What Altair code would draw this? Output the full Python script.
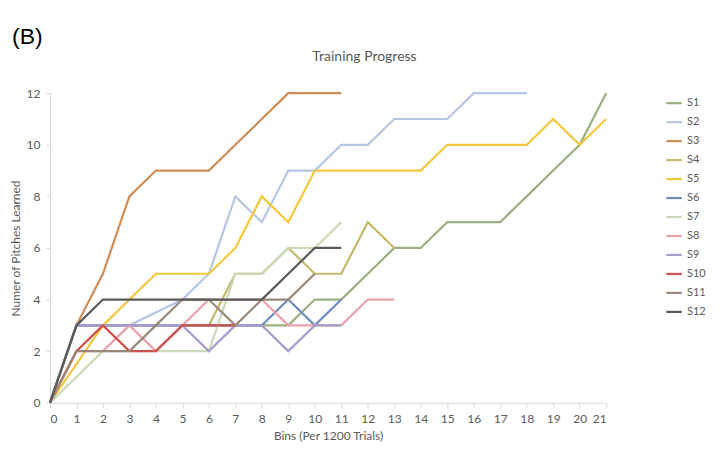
import altair as alt
import pandas as pd

bins = list(range(22))
series_names = ["S1", "S2", "S3", "S4", "S5", "S6", "S7", "S8", "S9", "S10", "S11", "S12"]

# values per bin (None = no point in that bin)
S1 = [0, 3, 3, 3, 3, 3, 3, 3, 3, 3, 4, 4, 5, 6, 6, 7, 7, 7, 8, 9, 10, 12]
S2 = [0, 3, 3, 3, None, 4, 5, 8, 7, 9, 9, 10, 10, 11, 11, 11, 12, 12, 12]
S3 = [0, 3, 5, 8, 9, 9, 9, 10, 11, 12, 12, 12]
S4 = [0, 3, 3, 3, 3, 3, 3, 5, 5, 6, 5, 5, 7, 6]
S5 = [0, None, 3, 4, 5, 5, 5, 6, 8, 7, 9, 9, 9, 9, 9, 10, 10, 10, 10, 11, 10, 11]
S6 = [0, 3, 3, 3, 3, 3, 3, 3, 3, 4, 3, 4]
S7 = [0, 1, 2, 2, 2, 2, 2, 5, 5, 6, 6, 7]
S8 = [0, 2, 2, 3, 2, 3, 4, 4, 4, 3, 3, 3, 4, 4]
S9 = [0, 3, 3, 3, 3, 3, 2, 3, 3, 2, 3, 3]
S10 = [0, 2, 3, 2, 2, 3, 3, 3]
S11 = [0, 2, 2, 2, 3, 4, 4, 3, 4, 4, 5]
S12 = [0, 3, 4, 4, 4, 4, 4, 4, 4, 5, 6, 6]

series_values = [S1, S2, S3, S4, S5, S6, S7, S8, S9, S10, S11, S12]
colors = ["#9AAF80", "#B4C6E4", "#D08C55", "#C4B86C", "#F2C83A", "#6F8CC4",
          "#C9D9B8", "#E9A2AA", "#A99CCB", "#D0504D", "#9C8878", "#595959"]

chart_title = "Training Progress"
panel_label = "(B)"

rows = []
for name, vals in zip(series_names, series_values):
    for b, v in zip(bins, vals):
        if v is not None:
            rows.append({"Series": name, "Bin": b, "Pitches": v})
df = pd.DataFrame(rows)

FONT = "Lato"
GREY = "#595959"

lines = alt.Chart(df).mark_line(strokeWidth=2.2).encode(
    x=alt.X("Bin:Q", scale=alt.Scale(domain=[0, 21], nice=False, zero=False),
            axis=alt.Axis(values=bins, title="Bins (Per 1200 Trials)", grid=False,
                          tickSize=5, labelPadding=6, titlePadding=6)),
    y=alt.Y("Pitches:Q", scale=alt.Scale(domain=[0, 12], nice=False),
            axis=alt.Axis(values=[0, 2, 4, 6, 8, 10, 12], title="Numer of Pitches Learned",
                          grid=False, tickSize=4, labelPadding=6,
                          titleX=-34, titleY=155, titleBaseline="middle",
                          titleAlign="center", titleAngle=270)),
    color=alt.Color("Series:N", scale=alt.Scale(domain=series_names, range=colors),
                    legend=alt.Legend(title=None, orient="none", legendX=616, legendY=1,
                                      symbolType="stroke", symbolStrokeWidth=2.2,
                                      symbolSize=240, rowPadding=5, labelFontSize=11,
                                      labelColor=GREY, labelFont=FONT)),
    detail="Series:N",
)

label_b = alt.Chart(pd.DataFrame({"t": [panel_label]})).mark_text(
    fontSize=23, font="Liberation Sans", align="left", baseline="middle", color="#000000"
).encode(x=alt.value(-38), y=alt.value(-56), text="t:N")

label_title = alt.Chart(pd.DataFrame({"t": [chart_title]})).mark_text(
    fontSize=14, font=FONT, align="center", baseline="middle", color=GREY
).encode(x=alt.value(315), y=alt.value(-36), text="t:N")

chart = alt.layer(lines, label_b, label_title).properties(
    width=557, height=310,
    autosize=alt.AutoSizeParams(type="none"),
    padding={"left": 42, "top": 85, "right": 106, "bottom": 45},
).configure_axis(
    domainColor="#D9D9D9", tickColor="#D9D9D9", labelColor=GREY, titleColor=GREY,
    labelFont=FONT, titleFont=FONT, labelFontSize=12, titleFontSize=12,
    titleFontWeight="normal",
).configure_view(stroke=None)

chart.save("out.html", embed_options={"renderer": "svg", "actions": False})
